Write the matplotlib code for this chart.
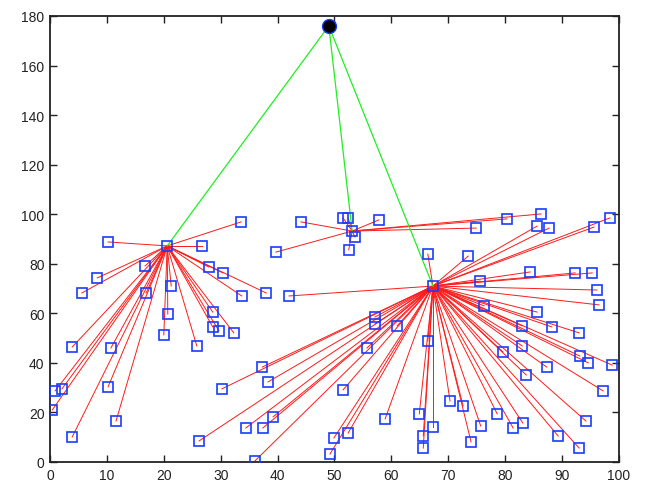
import matplotlib.pyplot as plt

# Base station
sink_x, sink_y = 49, 176

# Cluster heads
heads_x = [20.6, 53.1, 67.3]
heads_y = [87.2, 93.2, 71.0]

# Member nodes of the left cluster
left_x = [10.2, 33.6, 26.7, 16.7, 8.3, 5.6, 16.9, 21.3, 27.9, 30.4, 33.7, 38.0,
          20.7, 28.6, 28.6, 29.7, 32.3, 20.0, 25.8, 3.9, 10.7, 2.1, 0.9, 10.2,
          0.4, 3.9, 11.6]
left_y = [88.8, 96.9, 87.2, 79.1, 74.3, 68.2, 68.2, 71.0, 78.7, 76.3, 67.0, 68.2,
          59.7, 60.5, 54.5, 52.9, 52.1, 51.3, 46.8, 46.4, 46.0, 29.5, 28.7, 30.3,
          21.0, 10.1, 16.5]

# Member nodes of the middle cluster
mid_x = [44.1, 51.5, 52.4, 57.8, 53.6, 52.5, 39.7, 86.3, 80.3, 74.9]
mid_y = [96.9, 98.5, 98.5, 97.7, 90.8, 85.6, 84.7, 100.1, 98.1, 94.4]

# Member nodes of the right cluster
right_x = [42.0, 57.1, 57.1, 61.0, 55.7, 37.3, 38.3, 30.2, 51.5, 39.2, 34.4, 37.4,
           26.2, 36.0, 49.9, 52.4, 49.2, 58.9, 64.9, 65.6, 65.6, 67.3, 66.4, 66.4,
           85.6, 87.7, 98.4, 95.6, 73.5, 84.4, 92.3, 95.3, 96.1, 96.5, 75.6, 76.3,
           85.6, 83.0, 88.2, 93.0, 83.0, 79.6, 93.1, 94.6, 98.8, 87.3, 83.7, 97.2,
           70.3, 72.6, 78.6, 75.7, 81.4, 83.1, 94.2, 74.0, 89.3, 93.0]
right_y = [67.0, 58.5, 55.7, 54.9, 46.0, 38.3, 32.3, 29.5, 29.1, 18.2, 13.7, 13.7,
           8.5, 0.4, 9.7, 11.7, 3.2, 17.4, 19.4, 10.5, 5.6, 14.1, 48.8, 83.9,
           95.2, 94.4, 98.5, 94.8, 83.1, 76.7, 76.3, 76.3, 69.4, 63.4, 73.0, 63.0,
           60.5, 54.9, 54.5, 52.1, 46.8, 44.4, 42.8, 40.0, 39.1, 38.3, 35.1, 28.7,
           24.6, 22.6, 19.4, 14.5, 13.7, 15.7, 16.5, 8.1, 10.5, 5.6]

clusters = [(left_x, left_y), (mid_x, mid_y), (right_x, right_y)]

plt.rcParams['font.family'] = ['Liberation Sans', 'DejaVu Sans']
fig = plt.figure(figsize=(6.46, 4.89), dpi=100)
ax = fig.add_axes([0.0774, 0.0532, 0.8808, 0.9121])

# Member -> head links
for (xs, ys), hx, hy in zip(clusters, heads_x, heads_y):
    for x, y in zip(xs, ys):
        ax.plot([hx, x], [hy, y], color='#ff1a1a', lw=0.7, zorder=2)

# Head -> base station links
for hx, hy in zip(heads_x, heads_y):
    ax.plot([sink_x, hx], [sink_y, hy], color='#22ee22', lw=0.9, zorder=2)

# Sensor nodes
all_x = left_x + mid_x + right_x + heads_x
all_y = left_y + mid_y + right_y + heads_y
ax.plot(all_x, all_y, 's', mfc='none', mec='#1a3cff', ms=7, mew=1.2, zorder=3)

ax.plot(sink_x, sink_y, 'o', color='black', mec='#1a3cff', ms=10, mew=1, zorder=4)

ax.set_xlim(0, 100)
ax.set_ylim(0, 180)
ax.set_xticks(range(0, 101, 10))
ax.set_yticks(range(0, 181, 20))
ax.tick_params(direction='in', top=True, right=True, length=5, width=1,
               labelsize=10, colors='#222222', pad=4)
for sp in ax.spines.values():
    sp.set_linewidth(1.3)
    sp.set_color('#222222')

fig.savefig('out.png', dpi=100)
